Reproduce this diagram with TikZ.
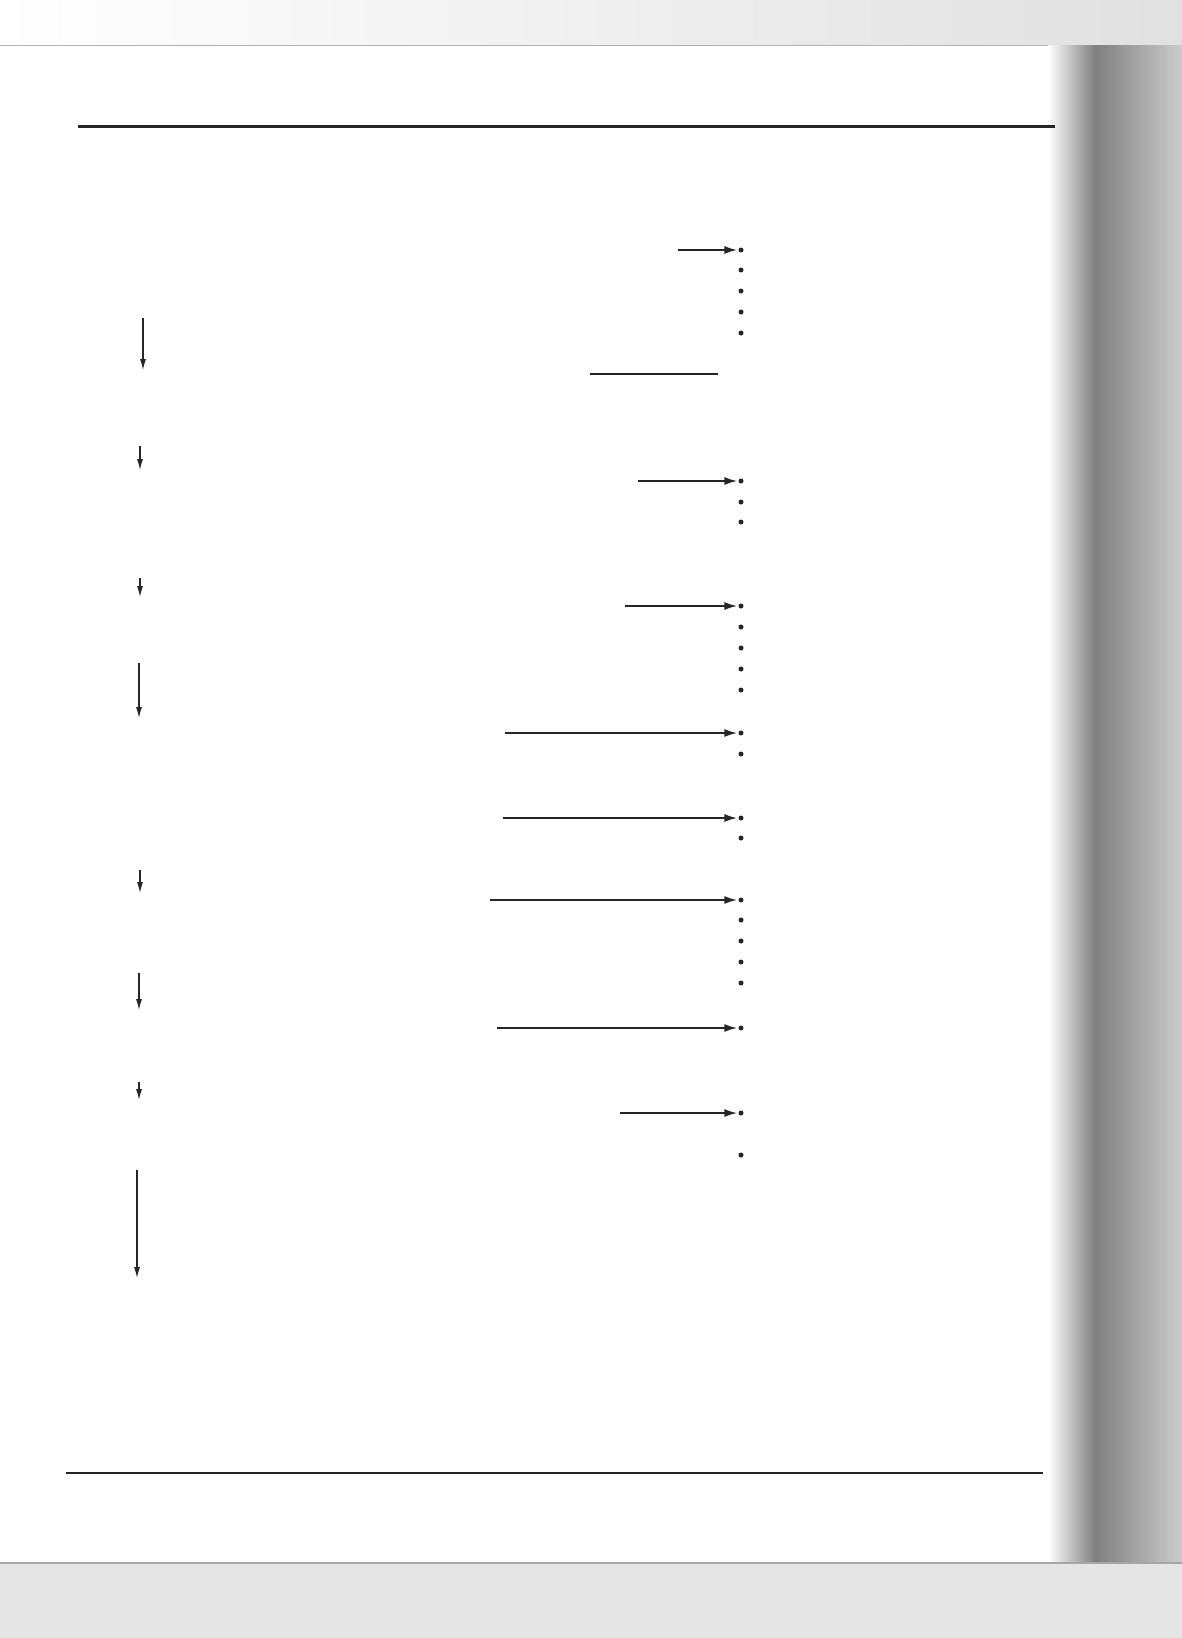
\documentclass[tikz,border=0pt]{standalone}
\usetikzlibrary{arrows.meta}
\begin{document}
\begin{tikzpicture}[x=1pt,y=-1pt,
  bul/.style={circle,fill=black!85,inner sep=0pt,minimum size=5pt},
  harrow/.style={line width=1.8pt,draw=black!85,-{Latex[length=13pt,width=8pt]},shorten >=1pt},
  hline/.style={line width=1.8pt,draw=black!85},
  varrow/.style={line width=1.2pt,draw=black!85,-{Latex[length=11pt,width=6pt]}},
  rule/.style={draw=black!85}]
\useasboundingbox (0,0) rectangle (1182,1638);
\fill[white] (0,0) rectangle (1182,1638);
% scan artefacts: top band and gutter
\shade[left color=white,right color=black!12] (0,0) rectangle (1182,45);
\draw[black!30,line width=1pt] (0,45) -- (1182,45);
\shade[left color=white,right color=black!50] (1048,45) rectangle (1095,1638);
\shade[left color=black!50,right color=black!20] (1095,45) rectangle (1182,1638);
\draw[black!35,line width=1.5pt] (0,1563) -- (1182,1563);
\fill[black!10] (0,1564) rectangle (1182,1638);
% rules
\coordinate (rt1) at (78,126); \coordinate (rt2) at (1055,126);
\draw[rule,line width=3pt] (rt1) -- (rt2);
\coordinate (rb1) at (66,1473); \coordinate (rb2) at (1043,1473);
\draw[rule,line width=2pt] (rb1) -- (rb2);
% bullets
\foreach \n/\y in {a1/250,a2/270,a3/291,a4/312,a5/333,
  c1/481,c2/502,c3/522,
  d1/606,d2/627,d3/648,d4/669,d5/690,
  e1/733,e2/754,
  f1/818,f2/838,
  g1/900,g2/920,g3/941,g4/962,g5/983,
  h1/1028,
  i1/1113,i2/1155}
  \node[bul] (\n) at (741,\y) {};
% horizontal arrows
\coordinate (sa) at (678,250); \draw[harrow] (sa) -- (a1.west);
\coordinate (sb1) at (590,374); \coordinate (sb2) at (718,374); \draw[hline] (sb1) -- (sb2);
\coordinate (sc) at (638,481); \draw[harrow] (sc) -- (c1.west);
\coordinate (sd) at (625,606); \draw[harrow] (sd) -- (d1.west);
\coordinate (se) at (505,733); \draw[harrow] (se) -- (e1.west);
\coordinate (sf) at (503,818); \draw[harrow] (sf) -- (f1.west);
\coordinate (sg) at (490,900); \draw[harrow] (sg) -- (g1.west);
\coordinate (sh) at (497,1028); \draw[harrow] (sh) -- (h1.west);
\coordinate (si) at (620,1113); \draw[harrow] (si) -- (i1.west);
% vertical arrows
\foreach \n/\x/\ya/\yb in {v1/143/318/370,v2/140/446/470,v3/140/578/597,v4/139/663/718,
  v5/140/870/893,v6/139/973/1010,v7/139/1082/1100,v8/137/1170/1278}{
  \coordinate (\n s) at (\x,\ya); \coordinate (\n e) at (\x,\yb);
  \draw[varrow] (\n s) -- (\n e);}
\end{tikzpicture}
\end{document}
